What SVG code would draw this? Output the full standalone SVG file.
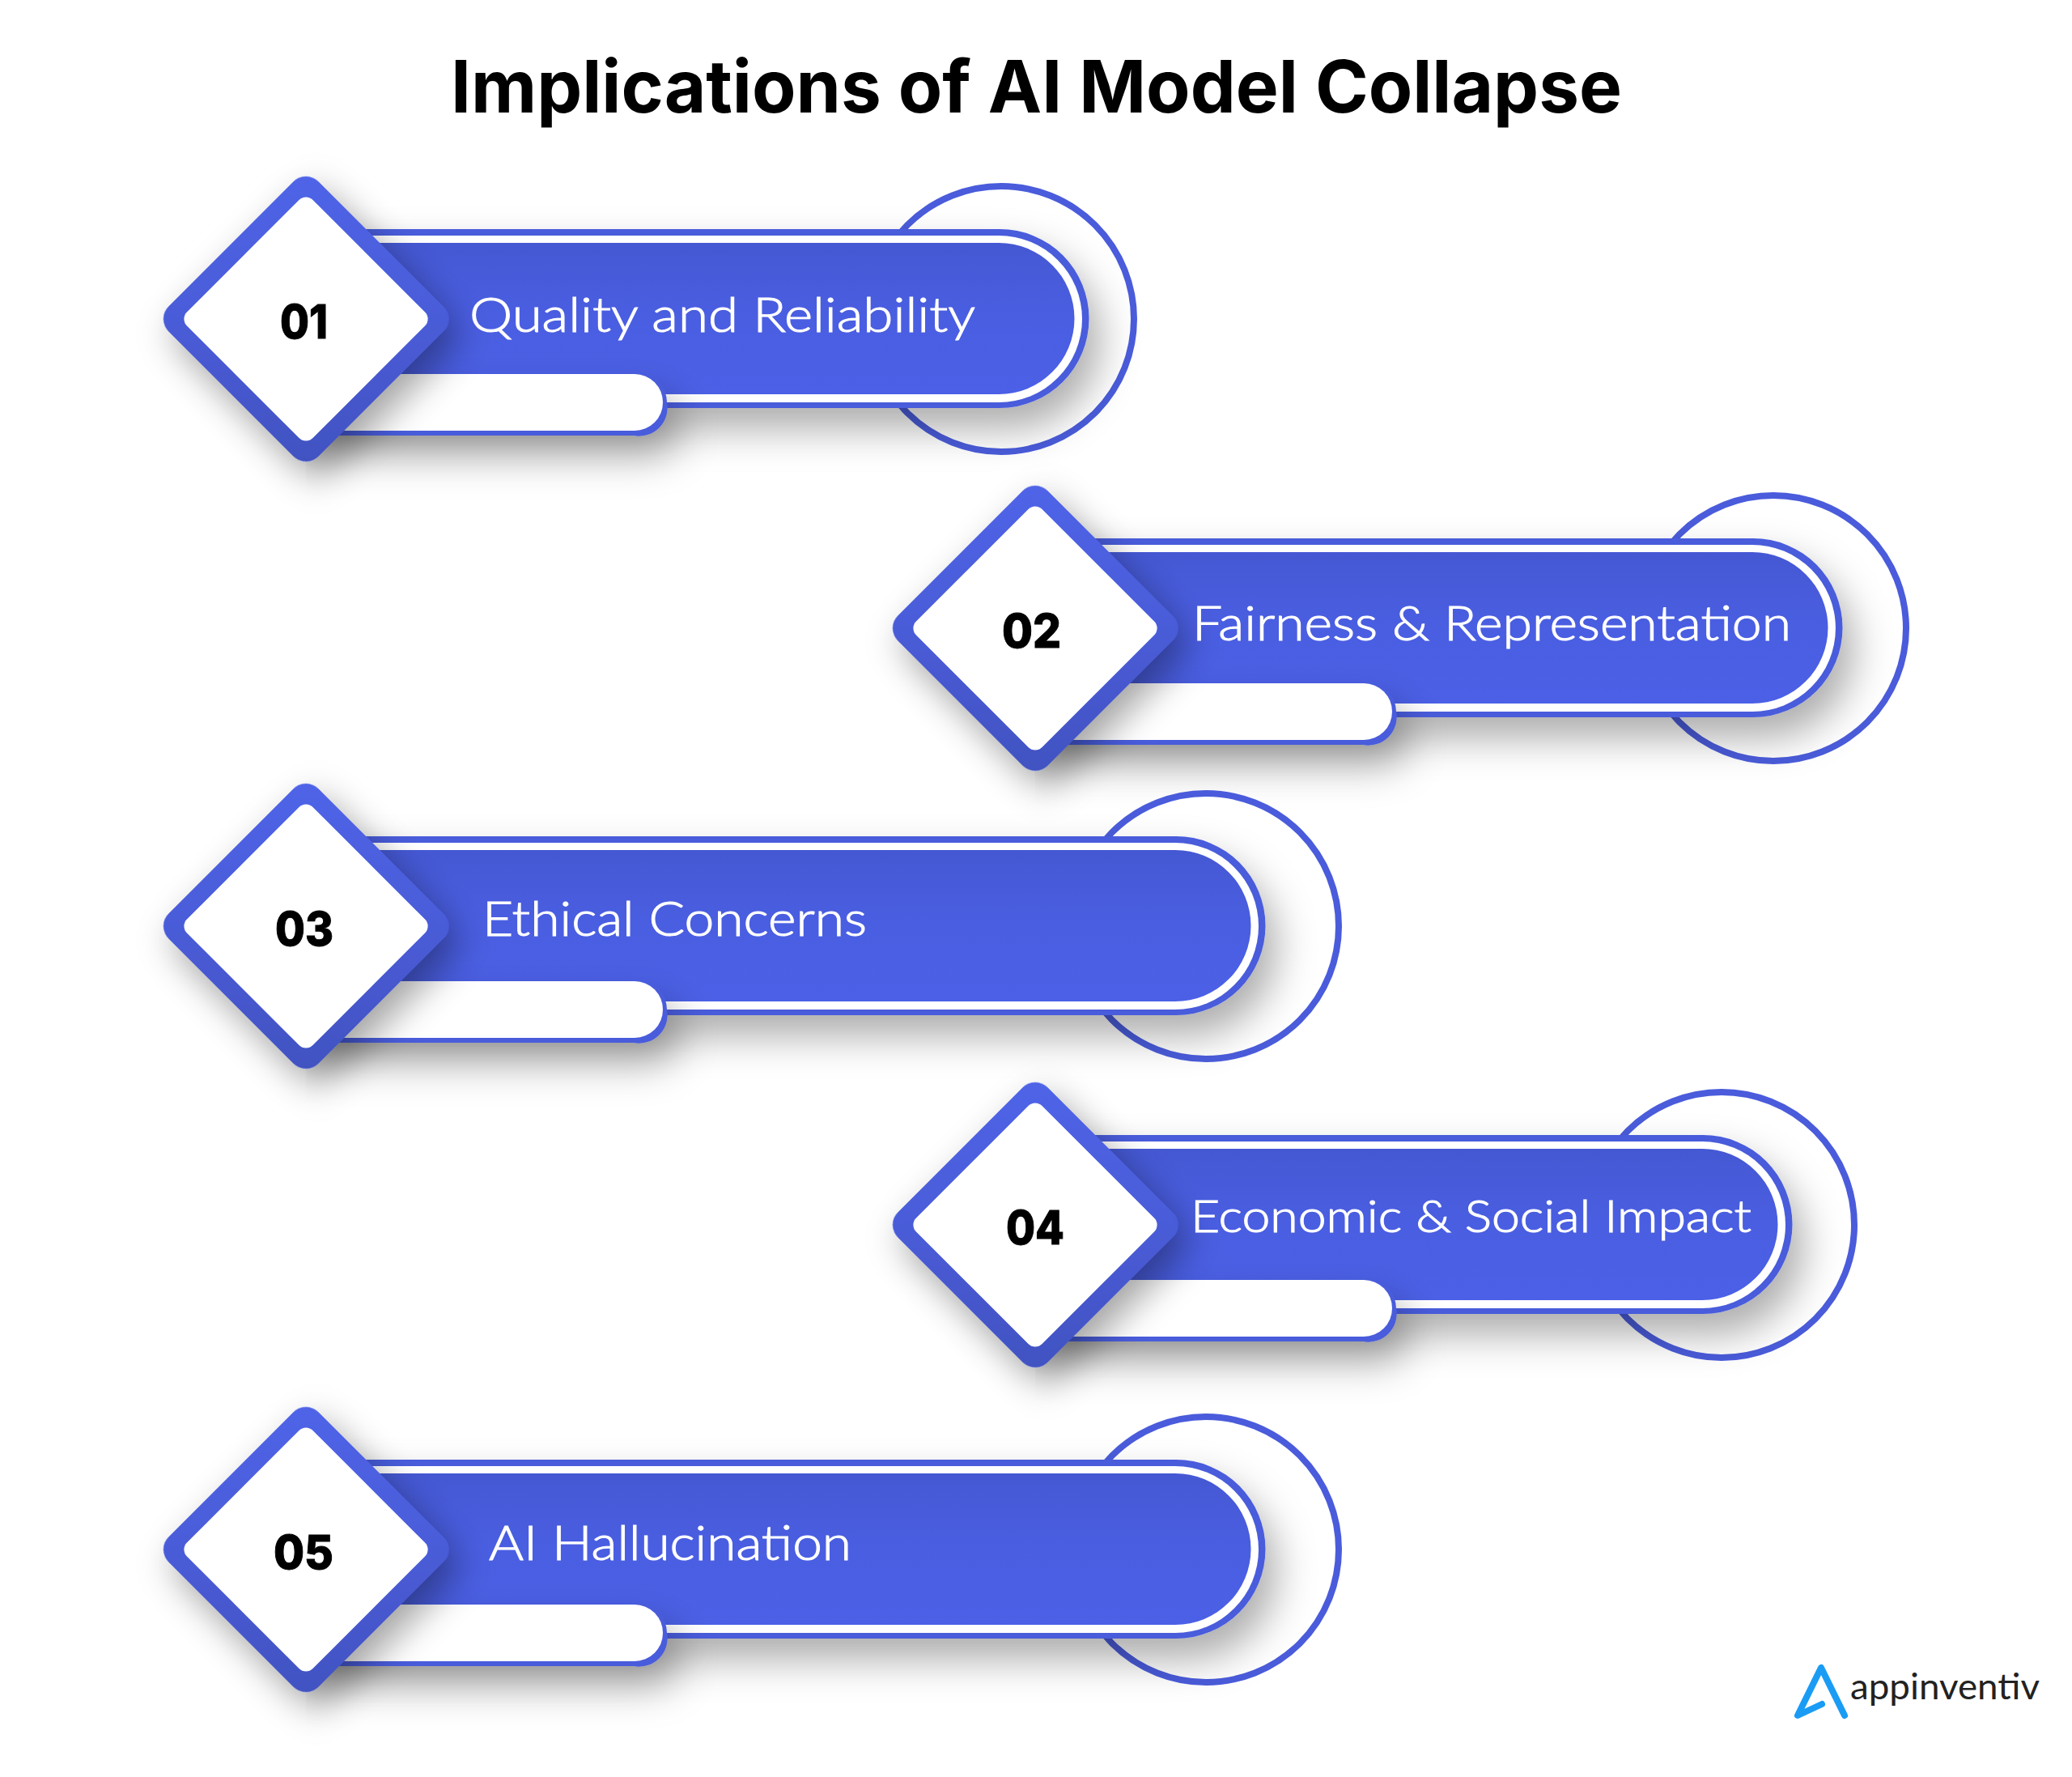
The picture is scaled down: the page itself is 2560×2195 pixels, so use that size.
<svg xmlns="http://www.w3.org/2000/svg" width="2560" height="2195" viewBox="0 0 2560 2195">
<style>
.ring{fill:#fff;stroke:#4a5cdb;stroke-width:8}
.outer{fill:#4a5cdb}
.band{fill:#fff}
.inner{fill:url(#barGrad)}
.pillo{fill:#4a5cdb}
.pill{fill:#fff}
.dia{fill:url(#diaGrad)}
.diw{fill:#fff}
.lbl{font-family:"Lato","Liberation Sans",sans-serif;font-size:60px;font-weight:300;fill:#fff;stroke:#fff;stroke-width:1.1px}
.num{font-family:"Inter","Liberation Sans",sans-serif;font-size:58px;font-weight:800;fill:#000;stroke:#000;stroke-width:1px}
.title{font-family:"Inter","Liberation Sans",sans-serif;font-size:90px;font-weight:700;fill:#000}
.brand{font-family:"Lato","Liberation Sans",sans-serif;font-size:44px;font-weight:400;fill:#222}
</style>
<defs>
<linearGradient id="barGrad" x1="0" y1="0" x2="0" y2="1"><stop offset="0" stop-color="#4558d3"/><stop offset=".5" stop-color="#4a5ee2"/><stop offset="1" stop-color="#4b60e6"/></linearGradient>
<linearGradient id="diaGrad" x1="0" y1="0" x2="1" y2="1"><stop offset="0" stop-color="#4f64e8"/><stop offset=".5" stop-color="#4a5cd8"/><stop offset="1" stop-color="#4152c0"/></linearGradient>
<filter id="sh" filterUnits="userSpaceOnUse" x="0" y="0" width="2560" height="2195"><feDropShadow dx="14" dy="26" stdDeviation="24" flood-color="#000" flood-opacity=".32"/></filter>
<filter id="shd" x="-50%" y="-50%" width="200%" height="200%"><feDropShadow dx="22" dy="4" stdDeviation="22" flood-color="#000" flood-opacity=".36"/></filter>
<g id="diamond">
<rect x="-131" y="-131" width="262" height="262" rx="22" class="dia" transform="rotate(45)" filter="url(#shd)"/>
<rect x="-110" y="-110" width="220" height="220" rx="12" class="diw" transform="rotate(45)"/>
</g>
<g id="pillbar">
<g filter="url(#sh)"><path class="pillo" d="M0 68H411A35 35 0 0 1 446 103A35 35 0 0 1 405 144H0Z"/></g>
<path class="pill" d="M0 68H406A35 35 0 0 1 406 138H0Z"/>
</g>
</defs>
<rect width="2560" height="2195" fill="#fff"/>
<text class="title" x="557" y="139" textLength="1447" lengthAdjust="spacingAndGlyphs">Implications of AI Model Collapse</text>

<g id="node-01">
<circle class="ring" cx="1237" cy="394" r="164"/>
<g filter="url(#sh)"><path class="outer" d="M378 283H1235A110.500 110.500 0 0 1 1235 504H378Z"/></g>
<path class="band" d="M378 291H1234A103 103 0 0 1 1234 497H378Z"/>
<path class="inner" d="M378 300H1234A93.500 93.500 0 0 1 1234 487H378Z"/>
<use href="#pillbar" x="378" y="394"/>
<use href="#diamond" x="378" y="394"/>
<text class="num" x="346" y="418" textLength="59" lengthAdjust="spacingAndGlyphs">01</text>
<text class="lbl" x="580" y="410" textLength="625" lengthAdjust="spacingAndGlyphs">Quality and Reliability</text>
</g>

<g id="node-02">
<circle class="ring" cx="2191" cy="776" r="164"/>
<g filter="url(#sh)"><path class="outer" d="M1279 665H2166A110.500 110.500 0 0 1 2166 886H1279Z"/></g>
<path class="band" d="M1279 673H2165A103 103 0 0 1 2165 879H1279Z"/>
<path class="inner" d="M1279 682H2165A93.500 93.500 0 0 1 2165 869H1279Z"/>
<use href="#pillbar" x="1279" y="776"/>
<use href="#diamond" x="1279" y="776"/>
<text class="num" x="1238" y="800" textLength="73" lengthAdjust="spacingAndGlyphs">02</text>
<text class="lbl" x="1473" y="791" textLength="740" lengthAdjust="spacingAndGlyphs">Fairness &amp; Representation</text>
</g>

<g id="node-03">
<circle class="ring" cx="1490" cy="1144" r="164"/>
<g filter="url(#sh)"><path class="outer" d="M378 1033H1453A110.500 110.500 0 0 1 1453 1254H378Z"/></g>
<path class="band" d="M378 1041H1452A103 103 0 0 1 1452 1247H378Z"/>
<path class="inner" d="M378 1050H1452A93.500 93.500 0 0 1 1452 1237H378Z"/>
<use href="#pillbar" x="378" y="1144"/>
<use href="#diamond" x="378" y="1144"/>
<text class="num" x="340" y="1168" textLength="72" lengthAdjust="spacingAndGlyphs">03</text>
<text class="lbl" x="596" y="1156" textLength="475" lengthAdjust="spacingAndGlyphs">Ethical Concerns</text>
</g>

<g id="node-04">
<circle class="ring" cx="2127" cy="1513" r="164"/>
<g filter="url(#sh)"><path class="outer" d="M1279 1402H2104A110.500 110.500 0 0 1 2104 1623H1279Z"/></g>
<path class="band" d="M1279 1410H2103A103 103 0 0 1 2103 1616H1279Z"/>
<path class="inner" d="M1279 1419H2103A93.500 93.500 0 0 1 2103 1606H1279Z"/>
<use href="#pillbar" x="1279" y="1513"/>
<use href="#diamond" x="1279" y="1513"/>
<text class="num" x="1243" y="1537" textLength="72" lengthAdjust="spacingAndGlyphs">04</text>
<text class="lbl" style="font-size:56px" x="1471" y="1522" textLength="693" lengthAdjust="spacingAndGlyphs">Economic &amp; Social Impact</text>
</g>

<g id="node-05">
<circle class="ring" cx="1490" cy="1914" r="164"/>
<g filter="url(#sh)"><path class="outer" d="M378 1803H1453A110.500 110.500 0 0 1 1453 2024H378Z"/></g>
<path class="band" d="M378 1811H1452A103 103 0 0 1 1452 2017H378Z"/>
<path class="inner" d="M378 1820H1452A93.500 93.500 0 0 1 1452 2007H378Z"/>
<use href="#pillbar" x="378" y="1914"/>
<use href="#diamond" x="378" y="1914"/>
<text class="num" x="338" y="1938" textLength="74" lengthAdjust="spacingAndGlyphs">05</text>
<text class="lbl" x="604" y="1927" textLength="448" lengthAdjust="spacingAndGlyphs">AI Hallucination</text>
</g>

<g id="logo">
<path d="M2279 2119L2250 2060L2221 2119L2251 2105" fill="none" stroke="#1a9cf5" stroke-width="8" stroke-linecap="round" stroke-linejoin="round"/>
<text class="brand" x="2286" y="2099" textLength="234" lengthAdjust="spacingAndGlyphs">appinventiv</text>
</g>
<g id="connectors"/>
</svg>
